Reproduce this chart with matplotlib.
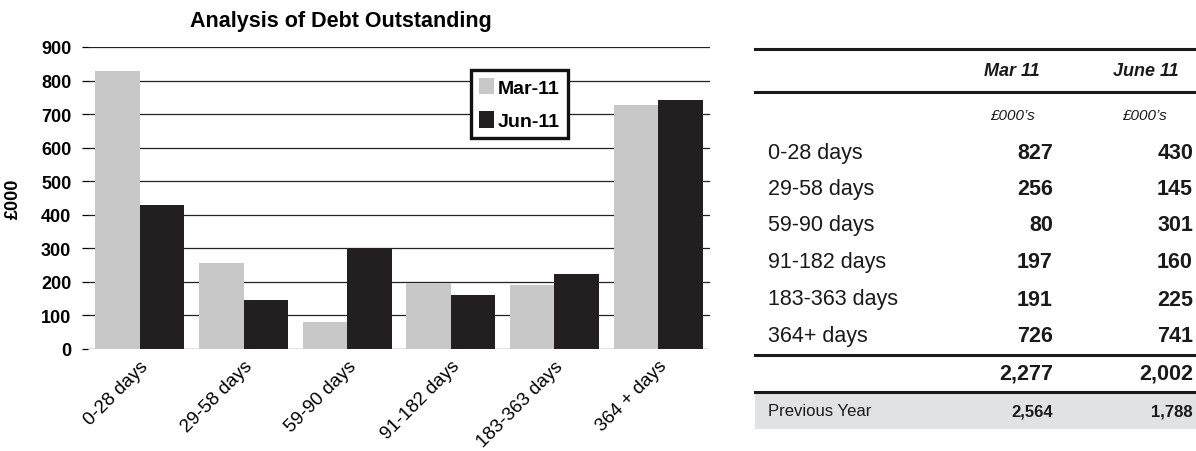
import matplotlib.pyplot as plt
from matplotlib.lines import Line2D
from matplotlib.patches import Rectangle
import numpy as np

plt.rcParams['font.family'] = ['Liberation Sans', 'DejaVu Sans']

# data
categories = ['0-28 days', '29-58 days', '59-90 days', '91-182 days', '183-363 days', '364 + days']
table_labels = ['0-28 days', '29-58 days', '59-90 days', '91-182 days', '183-363 days', '364+ days']
mar11 = [827, 256, 80, 197, 191, 726]
jun11 = [430, 145, 301, 160, 225, 741]
prev_year = [2564, 1788]
col_heads = ['Mar 11', 'June 11']
yticks = [0, 100, 200, 300, 400, 500, 600, 700, 800, 900]

W, H = 1196, 452
fig = plt.figure(figsize=(W / 100, H / 100), dpi=100)

# ---- bar chart ----
ax = fig.add_axes([88 / W, 1 - 350 / H, 622 / W, 302 / H])
x = np.arange(len(categories))
bw = 0.43
ax.bar(x - bw / 2, mar11, bw, color='#c8c8c8', label='Mar-11', zorder=3)
ax.bar(x + bw / 2, jun11, bw, color='#231f20', label='Jun-11', zorder=3)
ax.set_xlim(-0.5, len(categories) - 0.5)
ax.set_ylim(0, 900)
ax.set_yticks(yticks)
ax.set_yticklabels([str(v) for v in yticks], fontsize=13, fontweight='bold')
for v in yticks:
    ax.axhline(v, color='#222222', linewidth=0.9, zorder=1)
for s in ax.spines.values():
    s.set_visible(False)
ax.tick_params(axis='y', length=4, width=0.9, pad=8)
ax.tick_params(axis='x', length=0, pad=6)
ax.set_xticks(x)
ax.set_xticklabels(categories, rotation=45, ha='right', rotation_mode='anchor', fontsize=13.5)
fig.text(341 / W, 1 - 21 / H, 'Analysis of Debt Outstanding', ha='center', va='center',
         fontsize=15.5, fontweight='bold')
ax.set_ylabel('£000', fontsize=13, fontweight='bold', labelpad=14)
leg = ax.legend(loc='upper left', bbox_to_anchor=(0.6, 0.955), fancybox=False,
                framealpha=1, edgecolor='#111111', handlelength=0.8, handleheight=0.9,
                handletextpad=0.2, borderpad=0.4, labelspacing=0.75,
                prop={'weight': 'bold', 'size': 14})
leg.get_frame().set_linewidth(2.4)
leg.set_zorder(5)

# ---- table ----
def fy(py):
    return 1 - py / H

def hline(py, lw=2.2, color='#1a1a1a'):
    fig.add_artist(Line2D([755 / W, 1.0], [fy(py), fy(py)], color=color, linewidth=lw))

hline(50)
hline(93)
hline(356)
fig.add_artist(Rectangle((755 / W, fy(430)), 1 - 755 / W, (430 - 393) / H,
                         facecolor='#e1e2e3', edgecolor='none', zorder=0))
hline(393)

col_x = [1040 / W, 1179 / W]
num_x = [1053 / W, 1193 / W]
unit_x = [1035 / W, 1167 / W]
for cx, head in zip(col_x, col_heads):
    fig.text(cx, fy(72), head, ha='right', va='center', fontsize=13,
             fontweight='bold', fontstyle='italic', color='#1a1a1a')
for ux in unit_x:
    fig.text(ux, fy(116), '£000’s', ha='right', va='center', fontsize=11,
             fontstyle='italic', color='#1a1a1a')

row_y = [154, 190, 226, 263, 300, 337]
for py, lab, m, j in zip(row_y, table_labels, mar11, jun11):
    fig.text(768 / W, fy(py), lab, ha='left', va='center', fontsize=15.5, color='#1a1a1a')
    fig.text(num_x[0], fy(py), str(m), ha='right', va='center', fontsize=15.5,
             fontweight='bold', color='#1a1a1a')
    fig.text(num_x[1], fy(py), str(j), ha='right', va='center', fontsize=15.5,
             fontweight='bold', color='#1a1a1a')

totals = [sum(mar11), sum(jun11)]
for nx, t in zip(num_x, totals):
    fig.text(nx, fy(374), f'{t:,}', ha='right', va='center', fontsize=15.5,
             fontweight='bold', color='#1a1a1a')

fig.text(768 / W, fy(412), 'Previous Year', ha='left', va='center', fontsize=12, color='#1a1a1a')
for nx, p in zip(num_x, prev_year):
    fig.text(nx, fy(412), f'{p:,}', ha='right', va='center', fontsize=12,
             fontweight='bold', color='#1a1a1a')

fig.savefig('out.png', dpi=100)
